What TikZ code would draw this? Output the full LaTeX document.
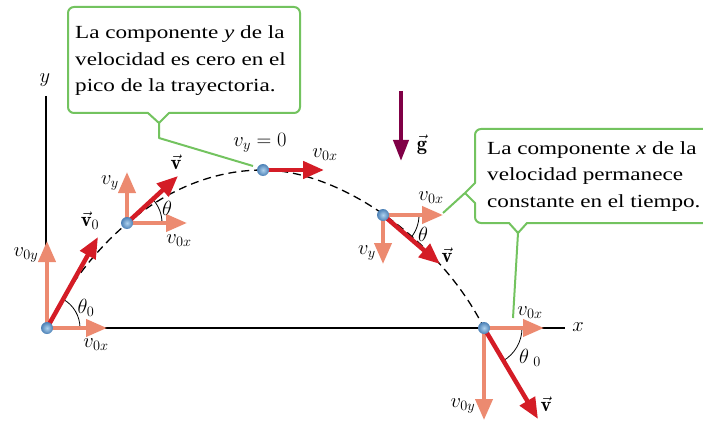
\RequirePackage{fix-cm}
\documentclass[tikz,border=0pt]{standalone}
\usepackage{fontspec}
\newfontfamily\boxfont[FakeStretch=1.25]{Liberation Serif}
\usetikzlibrary{arrows.meta}
\definecolor{salmon}{RGB}{236,138,112}
\definecolor{vred}{RGB}{212,28,38}
\definecolor{gcol}{RGB}{128,0,70}
\definecolor{callgreen}{RGB}{115,195,95}
\definecolor{ballin}{RGB}{175,210,238}
\definecolor{ballout}{RGB}{75,128,182}
\begin{document}
\begin{tikzpicture}[x=1pt,y=-1pt,
  lbl/.style={font=\fontsize{20.5}{24}\selectfont, inner sep=0pt},
  boxtext/.style={font=\boxfont\fontsize{18.5}{26.5}\selectfont, inner sep=0pt, anchor=base west, align=left},
  comp/.style={draw=salmon, line width=4pt, -{Triangle[length=21pt,width=17pt,fill=salmon]}},
  vel/.style={draw=vred, line width=4.5pt, -{Triangle[length=21pt,width=17pt,fill=vred]}},
  grav/.style={draw=gcol, line width=4pt, -{Triangle[length=21pt,width=15pt,fill=gcol]}},
  ball/.style={circle, minimum size=12pt, inner sep=0pt, inner color=ballin, outer color=ballout},
  callout/.style={draw=callgreen, line width=2pt, fill=white, line join=round},
  pointer/.style={draw=callgreen, line width=2pt, line join=round},
  axis/.style={draw=black, line width=1.6pt},
  traj/.style={draw=black, line width=1.3pt, dash pattern=on 8pt off 5pt},
  anglearc/.style={draw=black, line width=0.8pt}
]
\useasboundingbox (0,0) rectangle (703,422);
\clip (0,0) rectangle (703,422);

% positions of the projectile
\coordinate (p0) at (47,328);
\coordinate (p1) at (127,223);
\coordinate (p2) at (263,170);
\coordinate (p3) at (383,215);
\coordinate (p4) at (484,328);

% callout boxes
\draw[callout] (74,7) -- (294,7) arc[start angle=-90, end angle=0, radius=6]
  -- (300,107) arc[start angle=0, end angle=90, radius=6]
  -- (169,113) -- (159,123) -- (148,113) -- (74,113)
  arc[start angle=90, end angle=180, radius=6]
  -- (68,13) arc[start angle=180, end angle=270, radius=6] -- cycle;
\node[boxtext] (t1) at (75,92) {La componente \textit{y} de la\\velocidad es cero en el\\pico de la trayectoria.};
\coordinate (c1a) at (159,123);
\coordinate (c1b) at (159,138);
\coordinate (c1c) at (253,166);
\draw[pointer] (c1a) -- (c1b) -- (c1c);

\draw[callout] (712,129) -- (481,129) arc[start angle=-90, end angle=-180, radius=6]
  -- (475,183) -- (465,193) -- (475,203) -- (475,217)
  arc[start angle=180, end angle=90, radius=6]
  -- (509,223) -- (518,233) -- (527,223) -- (712,223);
\node[boxtext] (t2) at (487,207) {La componente \textit{x} de la\\velocidad permanece\\constante en el tiempo.};
\coordinate (c2a) at (465,193);
\coordinate (c2b) at (443,213);
\coordinate (c2c) at (518,233);
\coordinate (c2d) at (513,318);
\draw[pointer] (c2a) -- (c2b);
\draw[pointer] (c2c) -- (c2d);

% axes
\coordinate (ytop) at (46,96);
\coordinate (xend) at (565,328);
\draw[axis] (ytop) -- (46,328) -- (xend);
\node[lbl] (ylab) at (45,80) {$y$};
\node[lbl] (xlab) at (578,327) {$x$};

% trajectory
\draw[traj] (p0) .. controls (90,240) and (170,170) .. (p2) .. controls (340,170) and (440,240) .. (p4);

% angle arcs
\draw[anglearc] (80,328) arc[start angle=0, end angle=-61, radius=33];
\draw[anglearc] (162,223) arc[start angle=0, end angle=-42, radius=35];
\draw[anglearc] (419,215) arc[start angle=0, end angle=41, radius=36];
\draw[anglearc] (522,328) arc[start angle=0, end angle=60, radius=38];

% arrow tips
\coordinate (a0y) at (47,241);
\coordinate (a0x) at (107,328);
\coordinate (a0v) at (98,237);
\coordinate (a1y) at (127,172);
\coordinate (a1x) at (187,223);
\coordinate (a1v) at (178,176);
\coordinate (a2v) at (324,170);
\coordinate (a3x) at (443,215);
\coordinate (a3y) at (383,264);
\coordinate (a3v) at (440,264);
\coordinate (a4x) at (544,328);
\coordinate (a4y) at (484,420);
\coordinate (a4v) at (538,419);
\coordinate (g0) at (401,91);
\coordinate (g1) at (401,161);

\draw[comp] (p0) -- (a0y);
\draw[comp] (p0) -- (a0x);
\draw[vel] (p0) -- (a0v);
\draw[comp] (p1) -- (a1y);
\draw[comp] (p1) -- (a1x);
\draw[vel] (p1) -- (a1v);
\draw[vel] (p2) -- (a2v);
\draw[comp] (p3) -- (a3x);
\draw[comp] (p3) -- (a3y);
\draw[vel] (p3) -- (a3v);
\draw[comp] (p4) -- (a4x);
\draw[comp] (p4) -- (a4y);
\draw[vel] (p4) -- (a4v);
\draw[grav] (g0) -- (g1);

% balls
\node[ball] (b0) at (p0) {};
\node[ball] (b1) at (p1) {};
\node[ball] (b2) at (p2) {};
\node[ball] (b3) at (p3) {};
\node[ball] (b4) at (p4) {};

% labels
\node[lbl] (l0y) at (26,255) {$v_{0y}$};
\node[lbl] (l0x) at (96,345) {$v_{0x}$};
\node[lbl] (l0t) at (86,308) {$\theta_0$};
\node[lbl] (l0v) at (90,221) {$\vec{\mathbf{v}}_0$};
\node[lbl] (l1y) at (110,183) {$v_y$};
\node[lbl] (l1x) at (179,241) {$v_{0x}$};
\node[lbl] (l1t) at (167,208) {$\theta$};
\node[lbl] (l1v) at (176,162) {$\vec{\mathbf{v}}$};
\node[lbl] (l2y) at (260,143) {$v_y = 0$};
\node[lbl] (l2x) at (325,155) {$v_{0x}$};
\node[lbl] (l3x) at (431,198) {$v_{0x}$};
\node[lbl] (l3t) at (423,234) {$\theta$};
\node[lbl] (l3y) at (367,253) {$v_y$};
\node[lbl] (l3v) at (447,255) {$\vec{\mathbf{v}}$};
\node[lbl] (l4x) at (530,313) {$v_{0x}$};
\node[lbl] (l4t) at (530,358) {$\theta_{\,\,0}$};
\node[lbl] (l4y) at (463,406) {$v_{0y}$};
\node[lbl] (l4v) at (546,404) {$\vec{\mathbf{v}}$};
\node[lbl] (lg) at (422,145) {$\vec{\mathbf{g}}$};
\end{tikzpicture}
\end{document}
